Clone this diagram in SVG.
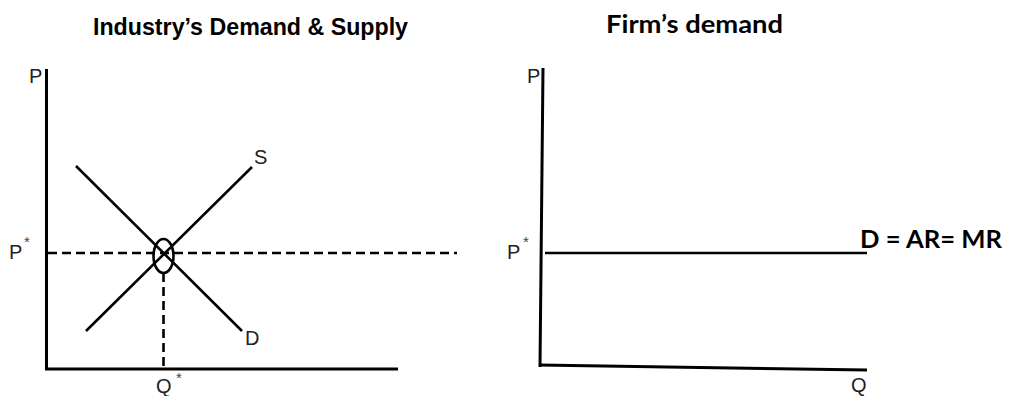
<svg xmlns="http://www.w3.org/2000/svg" width="1018" height="396" viewBox="0 0 1018 396">
<style>
.ax{stroke:#000;stroke-width:3;fill:none}
.ln{stroke:#000;stroke-width:2.6;fill:none}
.ds{stroke:#000;stroke-width:2.6;fill:none;stroke-dasharray:9 5}
.lb{font-family:"Liberation Sans",Arial,sans-serif;font-size:20px;fill:#222}
.st{font-family:"Liberation Sans",Arial,sans-serif;font-size:15px;fill:#444}
.t1{font-family:"Liberation Sans Narrow","Liberation Sans",Arial,sans-serif;font-weight:bold;font-size:24px;fill:#000}
.t2{font-family:Lato,"Liberation Sans",sans-serif;font-weight:bold;font-size:24px;fill:#000}
</style>
<rect width="1018" height="396" fill="#fff"/>
<g id="left-panel">
<text class="t1" x="93" y="35" textLength="315" lengthAdjust="spacingAndGlyphs">Industry’s Demand &amp; Supply</text>
<g id="left-axes">
<line class="ax" x1="46.5" y1="69" x2="46.5" y2="369"/>
<line class="ax" x1="45" y1="369" x2="398" y2="369"/>
<text class="lb" x="29" y="83">P</text>
<text class="lb" x="9" y="259">P</text><text class="st" x="24" y="247">*</text>
<text class="lb" x="156" y="393">Q</text><text class="st" x="176" y="383">*</text>
</g>
<g id="connectors-left">
<line class="ds" x1="48" y1="253" x2="457" y2="253"/>
<line class="ds" x1="163.5" y1="273" x2="163.5" y2="368"/>
</g>
<g id="demand"><line class="ln" x1="76" y1="166" x2="242" y2="331"/><text class="lb" x="245" y="345">D</text></g>
<g id="supply"><line class="ln" x1="86" y1="331" x2="252" y2="167"/><text class="lb" x="254" y="164">S</text></g>
<g id="equilibrium"><ellipse class="ln" cx="163.5" cy="256" rx="10" ry="17"/></g>
</g>
<g id="right-panel">
<text class="t2" x="606" y="33" textLength="177" lengthAdjust="spacingAndGlyphs">Firm’s demand</text>
<g id="right-axes">
<line class="ax" x1="543" y1="68" x2="540" y2="367"/>
<line class="ax" x1="539" y1="365" x2="867" y2="370"/>
<text class="lb" x="527" y="83">P</text>
<text class="lb" x="507" y="259">P</text><text class="st" x="523" y="247">*</text>
<text class="lb" x="851" y="392">Q</text>
</g>
<g id="firm-demand">
<line class="ln" x1="545" y1="253" x2="867" y2="253"/>
<text class="t2" x="860" y="248" textLength="142" lengthAdjust="spacingAndGlyphs">D = AR= MR</text>
</g>
</g>
</svg>
